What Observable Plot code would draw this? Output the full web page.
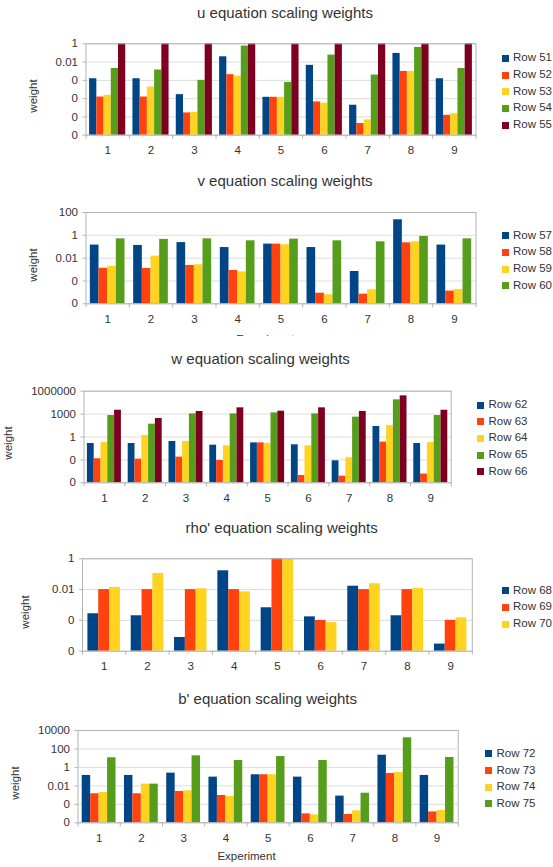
<!DOCTYPE html>
<html><head><meta charset="utf-8">
<script src="https://cdn.jsdelivr.net/npm/d3@7"></script>
<script src="https://cdn.jsdelivr.net/npm/@observablehq/plot@0.6"></script>
<style>
body{margin:0;background:#fff;font-family:"Liberation Sans",Arial,sans-serif;}
#root{position:relative;width:553px;height:867px;overflow:hidden;background:#fff;}
.abs{position:absolute;white-space:nowrap;color:#333;line-height:1;}
.panel{position:absolute;left:0;}
.panel svg{background:transparent !important;}
.sw{position:absolute;width:7px;height:7px;}
.clip{position:absolute;left:0;width:553px;overflow:hidden;}
</style></head><body><div id="root"></div>
<script>
const experiments = [1, 2, 3, 4, 5, 6, 7, 8, 9];
const colors = ["#004586", "#ff420e", "#ffd320", "#579d1c", "#7e0021"];

// u equation
const uRows = ["Row 51", "Row 52", "Row 53", "Row 54", "Row 55"];
const uRow51 = [1.5e-4, 1.5e-4, 2.75e-6, 0.038, 1.4e-6, 4.4e-3, 1.9e-7, 0.089, 1.5e-4];
const uRow52 = [1.5e-6, 1.5e-6, 2.75e-8, 4.2e-4, 1.4e-6, 4.4e-7, 1.9e-9, 9.5e-4, 1.5e-8];
const uRow53 = [2.3e-6, 1.9e-5, 3.2e-8, 3.0e-4, 1.4e-6, 3.2e-7, 4.7e-9, 9.5e-4, 2.3e-8];
const uRow54 = [2.0e-3, 1.35e-3, 1.0e-4, 0.56, 6.0e-5, 0.058, 3.8e-4, 0.4, 2.0e-3];
const uRow55 = [1, 1, 1, 1, 1, 1, 1, 1, 1];
const uTicks = [1e-10, 1e-8, 1e-6, 1e-4, 1e-2, 1];

// v equation
const vRows = ["Row 57", "Row 58", "Row 59", "Row 60"];
const vRow57 = [0.14, 0.13, 0.23, 0.085, 0.17, 0.085, 6.8e-4, 23, 0.14];
const vRow58 = [1.3e-3, 1.25e-3, 2.3e-3, 8.3e-4, 0.17, 8.5e-6, 7e-6, 0.22, 1.3e-5];
const vRow59 = [1.9e-3, 0.015, 2.6e-3, 6.3e-4, 0.15, 6.2e-6, 1.7e-5, 0.27, 1.8e-5];
const vRow60 = [0.49, 0.44, 0.49, 0.33, 0.46, 0.33, 0.27, 0.8, 0.49];
const vTicks = [1e-6, 1e-4, 1e-2, 1, 100];

// w equation
const wRows = ["Row 62", "Row 63", "Row 64", "Row 65", "Row 66"];
const wRow62 = [0.14, 0.14, 0.26, 0.085, 0.17, 0.095, 7.6e-4, 24, 0.14];
const wRow63 = [1.4e-3, 1.25e-3, 2.3e-3, 8.3e-4, 0.17, 9e-6, 7.4e-6, 0.21, 1.4e-5];
const wRow64 = [0.19, 1.6, 0.26, 0.069, 0.14, 0.069, 1.9e-3, 32, 0.19];
const wRow65 = [650, 48, 1070, 1070, 1450, 1070, 400, 74000, 650];
const wRow66 = [3200, 263, 2200, 6600, 2400, 6600, 2200, 245000, 3200];
const wTicks = [1e-6, 1e-3, 1, 1000, 1000000];

// rho' equation
const rRows = ["Row 68", "Row 69", "Row 70"];
const rRow68 = [2.7e-4, 2e-4, 7.8e-6, 0.166, 6.6e-4, 1.7e-4, 0.0166, 2e-4, 2.9e-6];
const rRow69 = [0.01, 0.01, 0.01, 0.01, 1, 1e-4, 0.01, 0.01, 1e-4];
const rRow70 = [0.0138, 0.112, 0.0112, 7.2e-3, 0.91, 7.2e-5, 0.024, 0.0117, 1.48e-4];
const rTicks = [1e-6, 1e-4, 1e-2, 1];

// b' equation
const bRows = ["Row 72", "Row 73", "Row 74", "Row 75"];
const bRow72 = [0.135, 0.135, 0.24, 0.089, 0.16, 0.089, 7.8e-4, 21, 0.135];
const bRow73 = [1.4e-3, 1.4e-3, 2.5e-3, 9.1e-4, 0.16, 9.3e-6, 7.9e-6, 0.22, 1.5e-5];
const bRow74 = [1.95e-3, 0.0155, 2.95e-3, 7.1e-4, 0.16, 7.4e-6, 2e-5, 0.28, 2.2e-5];
const bRow75 = [11, 0.0155, 18, 5.6, 15, 5.6, 1.6e-3, 1620, 12];
const bTicks = [1e-6, 1e-4, 1e-2, 1, 100, 10000];

const panels = [
  {title: "u equation scaling weights", rows: uRows, series: [uRow51, uRow52, uRow53, uRow54, uRow55], ticks: uTicks,
   top: 0, h: 165, left: 85.5, right: 475.5, plotTop: 43.3, plotBottom: 134.7, titleX: 285, titleY: 12,
   weightX: 33.5, weightY: 95.7, legX: 505, legY: 58.3, expX: null},
  {title: "v equation scaling weights", rows: vRows, series: [vRow57, vRow58, vRow59, vRow60], ticks: vTicks,
   top: 165, h: 165, left: 85.5, right: 475.5, plotTop: 212, plotBottom: 303.3, titleX: 285, titleY: 180,
   weightX: 33.5, weightY: 264.7, legX: 505, legY: 235.7, expX: 265.3, expTop: 334, clipTop: 300, clipBottom: 336},
  {title: "w equation scaling weights", rows: wRows, series: [wRow62, wRow63, wRow64, wRow65, wRow66], ticks: wTicks,
   top: 338, h: 167, left: 83.5, right: 450.7, plotTop: 390.7, plotBottom: 482.3, titleX: 260.6, titleY: 358.3,
   weightX: 8.8, weightY: 443.3, legX: 480.5, legY: 405, expX: null},
  {title: "rho' equation scaling weights", rows: rRows, series: [rRow68, rRow69, rRow70], ticks: rTicks,
   top: 505, h: 175, left: 82, right: 471.8, plotTop: 558.3, plotBottom: 650.7, titleX: 281.7, titleY: 526.7,
   weightX: 26.4, weightY: 611.7, legX: 505, legY: 590.7, expX: null},
  {title: "b' equation scaling weights", rows: bRows, series: [bRow72, bRow73, bRow74, bRow75], ticks: bTicks,
   top: 680, h: 187, left: 77.5, right: 457.7, plotTop: 730, plotBottom: 822.3, titleX: 267.6, titleY: 698.3,
   weightX: 15.8, weightY: 783.3, legX: 488.5, legY: 753.8, expX: 246.5, expTop: 850.8, clipTop: 840, clipBottom: 867}
];

const fmt = d => d >= 0.01 ? String(+d.toFixed(2)) : "0";
const boundaries = d3.range(0.5, 10, 1);
const root = document.getElementById("root");

function addText(txt, x, y, size, extra, parent) {
  const el = document.createElement("div");
  el.className = "abs";
  el.textContent = txt;
  el.style.fontSize = size + "px";
  el.style.left = x + "px";
  el.style.top = y + "px";
  el.style.transform = extra || "translate(-50%,-50%)";
  (parent || root).appendChild(el);
  return el;
}

for (const p of panels) {
  const n = p.rows.length;
  const w = 1 / (n + 1); // bar width, gap = one bar width
  const data = [];
  p.series.forEach((vals, si) => {
    vals.forEach((v, ei) => data.push({exp: experiments[ei], row: p.rows[si], si, value: v}));
  });
  const yMin = p.ticks[0], yMax = p.ticks[p.ticks.length - 1];
  const chart = Plot.plot({
    width: 553,
    height: p.h,
    marginLeft: p.left,
    marginRight: 553 - p.right,
    marginTop: p.plotTop - p.top,
    marginBottom: p.top + p.h - p.plotBottom,
    style: {background: "transparent", fontFamily: "Liberation Sans, Arial, sans-serif", color: "#333"},
    x: {type: "linear", domain: [0.5, 9.5]},
    y: {type: "log", domain: [yMin, yMax]},
    color: {domain: p.rows, range: colors.slice(0, n)},
    marks: [
      Plot.gridY(p.ticks, {stroke: "#dddddd", strokeOpacity: 1}),
      Plot.rectY(data, {
        x1: d => d.exp - 0.5 + w / 2 + d.si * w,
        x2: d => d.exp - 0.5 + w / 2 + (d.si + 1) * w,
        y1: yMin, y2: "value", fill: "row"
      }),
      Plot.frame({stroke: "#b3b3b3"}),
      Plot.axisY({ticks: p.ticks, tickFormat: fmt, tickSize: 3, tickPadding: 5, stroke: "#b3b3b3", fill: "#333", fontSize: 11.5, label: null}),
      Plot.axisX({ticks: boundaries, tickFormat: () => "", tickSize: 4, stroke: "#b3b3b3", label: null}),
      Plot.axisX({ticks: experiments, tickFormat: d => String(d), tickSize: 0, tickPadding: 11, fill: "#333", fontSize: 11.5, label: null})
    ]
  });
  const holder = document.createElement("div");
  holder.className = "panel";
  holder.style.top = p.top + "px";
  holder.appendChild(chart);
  root.appendChild(holder);

  addText(p.title, p.titleX, p.titleY, 15);
  addText("weight", p.weightX, p.weightY, 11.5, "translate(-50%,-50%) rotate(-90deg)");
  p.rows.forEach((r, i) => {
    const y = p.legY + i * 16.7;
    const sw = document.createElement("div");
    sw.className = "sw";
    sw.style.background = colors[i];
    sw.style.left = (p.legX - 3.5) + "px";
    sw.style.top = (y - 3.5) + "px";
    root.appendChild(sw);
    addText(r, p.legX + 8, y, 11.5, "translate(0,-50%)");
  });
  if (p.expX !== null) {
    // axis title, clipped where the next chart covers it (as in the reference)
    const clip = document.createElement("div");
    clip.className = "clip";
    clip.style.top = p.clipTop + "px";
    clip.style.height = (p.clipBottom - p.clipTop) + "px";
    root.appendChild(clip);
    addText("Experiment", p.expX, p.expTop - p.clipTop, 11.5, "translate(-50%,0)", clip);
  }
}
</script></body></html>
